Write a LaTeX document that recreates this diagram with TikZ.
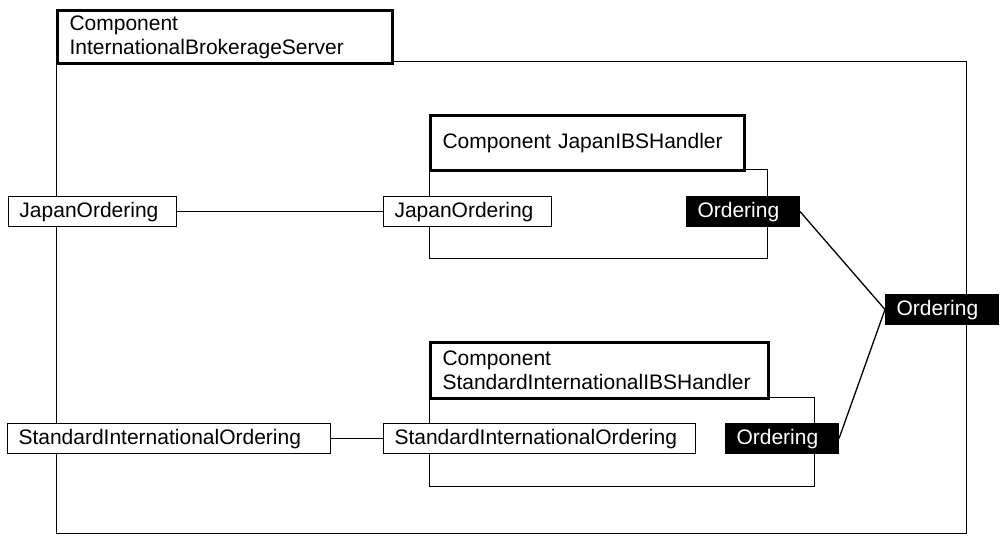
\documentclass[tikz,border=0pt]{standalone}
\usepackage{fontspec}
\setmainfont{Liberation Sans}
\begin{document}
\begin{tikzpicture}[x=1pt,y=-1pt,
  every node/.style={font=\fontsize{21}{24}\selectfont},
  port/.style={draw, line width=1pt, fill=white, anchor=north west, inner xsep=11pt, inner ysep=0pt,
    minimum height=30pt, text height=15pt, text depth=4pt, align=left},
  blackport/.style={port, fill=black, text=white},
  titlebox/.style={draw, line width=3pt, fill=white, anchor=north west, inner xsep=12pt, inner ysep=0pt, align=left},
  container/.style={draw, line width=1pt},
  conn/.style={draw, line width=1.3pt}]
\useasboundingbox (0,0) rectangle (1000,536);
% containers
\draw[container] (56,61) rectangle (966,533);
\draw[container] (429,169) rectangle (767,258);
\draw[container] (429,397) rectangle (814,486);
% titles
\node[titlebox, text width=311pt, minimum height=53pt] (tout) at (56,9) {Component\\InternationalBrokerageServer};
\node[titlebox, text width=290pt, minimum height=55pt] (tjap) at (429,114) {Component JapanIBSHandler};
\node[titlebox, text width=314pt, minimum height=56pt] (tstd) at (429,341) {Component\\\mbox{StandardInternationalIBSHandler}};
% ports
\node[port, text width=146pt] (ljord) at (8,196) {JapanOrdering};
\node[port, text width=146pt] (jord) at (383,196) {JapanOrdering};
\node[blackport, text width=91pt] (jo) at (686,196) {Ordering};
\node[blackport, text width=91pt] (oo) at (885,294) {Ordering};
\node[port, text width=301pt] (lsord) at (7,423) {\mbox{StandardInternationalOrdering}};
\node[port, text width=290pt] (sord) at (383,423) {\mbox{StandardInternationalOrdering}};
\node[blackport, text width=91pt] (so) at (725,423) {Ordering};
% connectors
\draw[conn] (ljord.east) -- (jord.west);
\draw[conn] (lsord.east) -- (sord.west);
\draw[conn] (jo.east) -- (oo.west);
\draw[conn] (so.east) -- (oo.west);
\end{tikzpicture}
\end{document}
